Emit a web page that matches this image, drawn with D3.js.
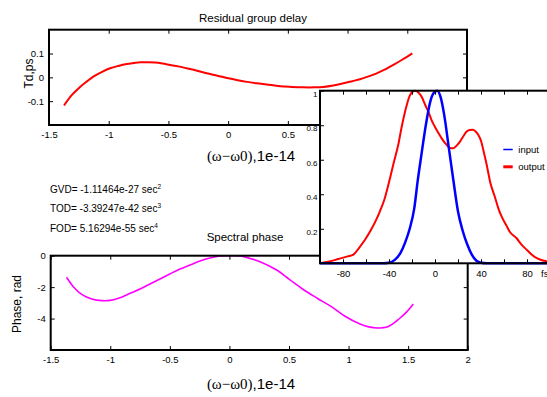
<!DOCTYPE html>
<html>
<head>
<meta charset="utf-8">
<script src="https://cdn.jsdelivr.net/npm/d3@7"></script>
<style>
  body { margin: 0; background: #fff; }
  svg text { font-family: "Liberation Sans", Arial, sans-serif; fill: #000; }
</style>
</head>
<body>
<div id="chart"></div>
<script>
// ---- data ----
// residual group delay (ps) vs (w-w0), units of 1e14
const delayX = [-1.374, -1.31, -1.24, -1.18, -1.129, -1.06, -0.989, -0.92, -0.849, -0.79, -0.737, -0.68, -0.612, -0.55, -0.486, -0.42, -0.347, -0.26, -0.179, -0.09, 0.002, 0.08, 0.156, 0.24, 0.323, 0.435, 0.53, 0.63, 0.72, 0.797, 0.88, 0.965, 1.04, 1.104, 1.17, 1.244, 1.31, 1.383, 1.46, 1.542];
const delayY = [-0.118, -0.075, -0.04, -0.016, 0.003, 0.022, 0.038, 0.048, 0.056, 0.06, 0.063, 0.063, 0.062, 0.058, 0.052, 0.046, 0.038, 0.028, 0.017, 0.007, -0.004, -0.012, -0.019, -0.025, -0.03, -0.037, -0.04, -0.042, -0.042, -0.04, -0.034, -0.025, -0.016, -0.008, 0.003, 0.017, 0.032, 0.052, 0.075, 0.101];

// spectral phase (rad)
const phaseX = [-1.367, -1.31, -1.24, -1.156, -1.07, -1.0, -0.918, -0.834, -0.75, -0.667, -0.583, -0.5, -0.415, -0.33, -0.247, -0.163, -0.079, 0.005, 0.09, 0.173, 0.257, 0.397, 0.503, 0.62, 0.74, 0.859, 0.97, 1.096, 1.17, 1.24, 1.334, 1.43, 1.49, 1.543];
const phaseY = [-1.37, -1.97, -2.46, -2.75, -2.86, -2.84, -2.67, -2.39, -2.12, -1.8, -1.48, -1.16, -0.85, -0.59, -0.34, -0.146, -0.02, 0.0, -0.02, -0.17, -0.38, -0.91, -1.5, -2.15, -2.72, -3.26, -3.85, -4.34, -4.53, -4.6, -4.5, -3.98, -3.56, -3.07];

// temporal intensity (fs), inset
const inputT = [-100, -45, -40, -35, -30, -26, -22, -18, -15, -12, -8, -4, 0, 2, 5, 8, 12, 16, 20, 24, 28, 32, 36, 40, 45, 100];
const inputI = [0, 0, 0.003, 0.02, 0.06, 0.12, 0.2, 0.32, 0.48, 0.62, 0.8, 0.94, 0.995, 1.0, 0.96, 0.86, 0.67, 0.48, 0.3, 0.19, 0.11, 0.05, 0.015, 0.003, 0, 0];
const outputT = [-100, -92, -84, -76, -71, -66, -61, -56, -52, -48, -44, -40, -36, -32, -29, -26, -22, -19.5, -17.4, -14.5, -11.6, -8.7, -5.8, -3, 0, 3, 5.8, 9, 11.6, 14, 16, 19, 21.7, 24.5, 27.5, 30, 33, 35.5, 37.7, 40, 42, 45, 48, 52, 55, 58, 62, 65, 71, 75, 80, 85, 89, 93, 97, 100];
const outputI = [0.0, 0.01, 0.025, 0.04, 0.05, 0.09, 0.135, 0.19, 0.24, 0.3, 0.37, 0.47, 0.58, 0.685, 0.79, 0.88, 0.97, 0.995, 1.0, 0.99, 0.965, 0.92, 0.878, 0.83, 0.79, 0.755, 0.724, 0.695, 0.676, 0.667, 0.667, 0.683, 0.705, 0.735, 0.763, 0.772, 0.774, 0.762, 0.744, 0.71, 0.657, 0.57, 0.47, 0.386, 0.32, 0.27, 0.22, 0.183, 0.145, 0.11, 0.077, 0.045, 0.028, 0.018, 0.012, 0.008];

// tick values
const omegaTicks = [-1.5, -1, -0.5, 0, 0.5, 1, 1.5, 2];
const delayTicks = [-0.1, 0, 0.1];
const phaseTicks = [-4, -2, 0];
const timeTicks = [-100, -80, -60, -40, -20, 0, 20, 40, 60, 80, 100];
const timeLabels = [-80, -40, 0, 40, 80];
const intensityTicks = [0.2, 0.4, 0.6, 0.8, 1];

const fitLines = [
  { name: "GVD", value: "-1.11464e-27", power: "2" },
  { name: "TOD", value: "-3.39247e-42", power: "3" },
  { name: "FOD", value: "5.16294e-55", power: "4" }
];

const W = 547, H = 397;
const svg = d3.select("#chart").append("svg")
  .attr("width", W)
  .attr("height", H);

const fmt = d => String(d);

// draws inward ticks on all four sides plus a heavy frame
function framedPlot(g, x, y, opt) {
  const [x0, x1] = x.range();
  const [y0, y1] = y.range();  // y0 bottom, y1 top

  g.append("g")
    .attr("transform", "translate(0," + y0 + ")")
    .call(d3.axisBottom(x).tickValues(opt.xTicks).tickSizeInner(-4).tickSizeOuter(0)
      .tickPadding(6.6).tickFormat(d => opt.xLabels.includes(d) ? fmt(d) : ""))
    .call(a => a.select(".domain").remove());

  g.append("g")
    .attr("transform", "translate(0," + y1 + ")")
    .call(d3.axisTop(x).tickValues(opt.xTicks).tickSizeInner(-4).tickSizeOuter(0).tickFormat(""))
    .call(a => a.select(".domain").remove());

  const left = g.append("g")
    .attr("class", "y-left")
    .attr("transform", "translate(" + x0 + ",0)")
    .call(d3.axisLeft(y).tickValues(opt.yTicks).tickSizeInner(-4).tickSizeOuter(0)
      .tickPadding(opt.yPad || 5).tickFormat(fmt))
    .call(a => a.select(".domain").remove());

  if (opt.rightTicks) {
    g.append("g")
      .attr("transform", "translate(" + x1 + ",0)")
      .call(d3.axisRight(y).tickValues(opt.yTicks).tickSizeInner(-4).tickSizeOuter(0).tickFormat(""))
      .call(a => a.select(".domain").remove());
  }

  g.selectAll(".tick line").attr("stroke", "#000").attr("stroke-width", 1);
  g.selectAll(".tick text")
    .style("font-family", '"Liberation Sans", Arial, sans-serif')
    .style("font-size", "9.5px")
    .attr("fill", "#000");

  g.append("rect")
    .attr("x", x0).attr("y", y1)
    .attr("width", x1 - x0).attr("height", y0 - y1)
    .attr("fill", "none")
    .attr("stroke", "#000")
    .attr("stroke-width", 2);

  return left;
}

function omegaLabel(g, cx, baseline) {
  const t = g.append("text")
    .attr("x", cx).attr("y", baseline)
    .attr("text-anchor", "middle")
    .style("font-size", "15px");
  t.append("tspan").style("font-family", '"Liberation Serif", "Times New Roman", serif').text("(\u03c9\u2212\u03c90)");
  t.append("tspan").text(",1e-14");
}

// ---------- top: residual group delay ----------
const xTop = d3.scaleLinear().domain([-1.5, 2]).range([49, 467]);
const yTop = d3.scaleLinear().domain([-0.2, 0.2]).range([125, 29.7]);
const gTop = svg.append("g");

gTop.append("path")
  .datum(delayX.map((d, i) => [d, delayY[i]]))
  .attr("d", d3.line().x(d => xTop(d[0])).y(d => yTop(d[1])).curve(d3.curveCatmullRom.alpha(0.5)))
  .attr("fill", "none")
  .attr("stroke", "#ff0000")
  .attr("stroke-width", 2);

framedPlot(gTop, xTop, yTop, {
  xTicks: omegaTicks, xLabels: omegaTicks,
  yTicks: delayTicks, rightTicks: true
});

gTop.append("text")
  .attr("x", 253).attr("y", 21.5)
  .attr("text-anchor", "middle")
  .style("font-size", "11.5px")
  .text("Residual group delay");

gTop.append("text")
  .attr("transform", "translate(33,73.5) rotate(-90)")
  .attr("text-anchor", "middle")
  .style("font-size", "12px")
  .text("Td,ps");

omegaLabel(gTop, 251, 161);

// ---------- fit coefficients ----------
fitLines.forEach(function (f, i) {
  const t = svg.append("text")
    .attr("x", 50).attr("y", 192.7 + i * 19.5)
    .style("font-size", "10px");
  t.append("tspan").text(f.name + "= " + f.value + " sec");
  t.append("tspan").attr("dy", "-4").style("font-size", "6.5px").text(f.power);
});

// ---------- bottom: spectral phase ----------
const xBot = d3.scaleLinear().domain([-1.5, 2]).range([50.7, 467.7]);
const yBot = d3.scaleLinear().domain([-6, 0]).range([350, 255.7]);
const gBot = svg.append("g");

gBot.append("path")
  .datum(phaseX.map((d, i) => [d, phaseY[i]]))
  .attr("d", d3.line().x(d => xBot(d[0])).y(d => yBot(d[1])).curve(d3.curveCatmullRom.alpha(0.5)))
  .attr("fill", "none")
  .attr("stroke", "#ff00ff")
  .attr("stroke-width", 1.6);

framedPlot(gBot, xBot, yBot, {
  xTicks: omegaTicks, xLabels: omegaTicks,
  yTicks: phaseTicks, rightTicks: true
});

gBot.append("text")
  .attr("x", 245).attr("y", 241)
  .attr("text-anchor", "middle")
  .style("font-size", "11.5px")
  .text("Spectral phase");

gBot.append("text")
  .attr("transform", "translate(20.5,304) rotate(-90)")
  .attr("text-anchor", "middle")
  .style("font-size", "12px")
  .text("Phase, rad");

omegaLabel(gBot, 251, 389);

// ---------- inset: temporal intensity ----------
const xIn = d3.scaleLinear().domain([-100, 100]).range([320, 550]);
const yIn = d3.scaleLinear().domain([0, 1]).range([263.3, 90.7]);
const gIn = svg.append("g");

gIn.append("rect")
  .attr("x", 320).attr("y", 90.7)
  .attr("width", 230).attr("height", 263.3 - 90.7)
  .attr("fill", "#fff");

const lineIn = d3.line().x(d => xIn(d[0])).y(d => yIn(d[1])).curve(d3.curveMonotoneX);

gIn.append("path")
  .datum(outputT.map((d, i) => [d, outputI[i]]))
  .attr("d", lineIn)
  .attr("fill", "none")
  .attr("stroke", "#ff0000")
  .attr("stroke-width", 2);

gIn.append("path")
  .datum(inputT.map((d, i) => [d, inputI[i]]))
  .attr("d", lineIn)
  .attr("fill", "none")
  .attr("stroke", "#0000ff")
  .attr("stroke-width", 2.5);

const inLeft = framedPlot(gIn, xIn, yIn, {
  xTicks: timeTicks, xLabels: timeLabels,
  yTicks: intensityTicks, yPad: 2.5
});
// intensity labels are smaller and sit a little low
inLeft.selectAll(".tick text")
  .style("font-size", "8px")
  .attr("dy", "0.7em");

gIn.append("text")
  .attr("x", 541).attr("y", 277)
  .style("font-size", "9.5px")
  .text("fs");

// legend
const legend = [
  { label: "input", color: "#0000ff", width: 1.5 },
  { label: "output", color: "#ff0000", width: 3 }
];
legend.forEach(function (l, i) {
  const y = 149.5 + i * 17.3;
  gIn.append("line")
    .attr("x1", 503.3).attr("x2", 512.7)
    .attr("y1", y).attr("y2", y)
    .attr("stroke", l.color)
    .attr("stroke-width", l.width);
  gIn.append("text")
    .attr("x", 518.3).attr("y", y)
    .attr("dy", "0.35em")
    .style("font-size", "9.5px")
    .text(l.label);
});
</script>
</body>
</html>
